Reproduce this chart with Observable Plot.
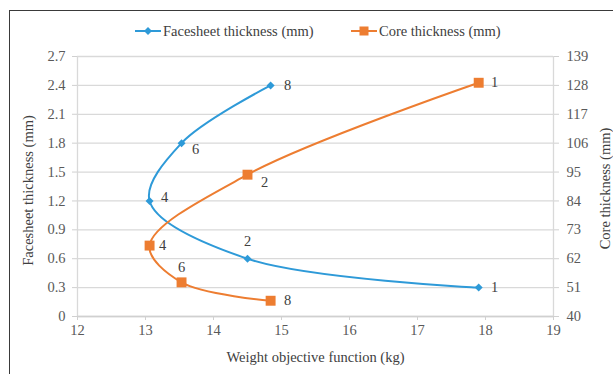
<!DOCTYPE html>
<html>
<head>
<meta charset="utf-8">
<script src="https://cdn.jsdelivr.net/npm/d3@7"></script>
<script src="https://cdn.jsdelivr.net/npm/@observablehq/plot@0.6"></script>
<style>
  html, body { margin: 0; padding: 0; background: #fff; overflow: hidden; }
  #wrap { position: relative; width: 613px; height: 374px; overflow: hidden; font-family: "Liberation Serif", serif; }
  #frame { position: absolute; left: 9px; top: 10px; width: 700px; height: 500px; border-left: 1px solid #3a3a3a; border-top: 1px solid #3a3a3a; }
  #chart { position: absolute; left: 0; top: 0; }
  #legend { position: absolute; top: 21px; left: 0; height: 20px; font-size: 14.5px; color: #404040; }
  .item { position: absolute; top: 0; white-space: nowrap; display: flex; align-items: center; height: 20px; }
  .item svg { margin-right: 2px; }
</style>
</head>
<body>
<div id="wrap">
  <div id="frame"></div>
  <div id="chart"></div>
  <div id="legend"></div>
</div>
<script>
// ---- data ----
const runs = ["8", "6", "4", "2", "1"];
const weight = [14.84, 13.53, 13.06, 14.5, 17.9];          // Weight objective function (kg)
const facesheet = [2.4, 1.8, 1.2, 0.6, 0.3];               // Facesheet thickness (mm)
const core = [46, 53, 67, 94, 129];                        // Core thickness (mm)
const leftTicks = [0, 0.3, 0.6, 0.9, 1.2, 1.5, 1.8, 2.1, 2.4, 2.7];
const rightTicks = [40, 51, 62, 73, 84, 95, 106, 117, 128, 139];
const xTicks = [12, 13, 14, 15, 16, 17, 18, 19];
const seriesNames = ["Facesheet thickness (mm)", "Core thickness (mm)"];
const axisTitles = { x: "Weight objective function (kg)", left: "Facesheet thickness (mm)", right: "Core thickness (mm)" };

const blue = "#2e9ad8";
const orange = "#ed7d31";
const leftMax = leftTicks[leftTicks.length - 1];
const rMin = rightTicks[0], rMax = rightTicks[rightTicks.length - 1];
const coreToY = c => (c - rMin) / (rMax - rMin) * leftMax;

const faceRows = runs.map((r, i) => ({ run: r, x: weight[i], y: facesheet[i] }));
const coreRows = runs.map((r, i) => ({ run: r, x: weight[i], y: coreToY(core[i]) }));

const faceOff = { "1": [16, 0], "2": [0, -17], "4": [15, -4], "6": [14, 6], "8": [17, 0] };
const coreOff = { "1": [16, 0], "2": [17, 8], "4": [13, 0], "6": [0, -15], "8": [17, 0] };

const labelMarks = (rows, off) => rows.map(d => Plot.text([d], {
  x: "x", y: "y", text: "run", dx: off[d.run][0], dy: off[d.run][1],
  fill: "#404040", fontSize: 14.5
}));

const plot = Plot.plot({
  width: 613, height: 374,
  marginLeft: 77, marginRight: 60, marginTop: 56, marginBottom: 58,
  x: { domain: [12, 19] },
  y: { domain: [0, leftMax] },
  style: { fontFamily: "Liberation Serif", fontSize: "14.5px", color: "#595959", background: "transparent" },
  marks: [
    Plot.gridY(leftTicks, { stroke: "#d9d9d9", strokeOpacity: 1, strokeWidth: 1.3 }),
    Plot.ruleX([12, 19], { stroke: "#d9d9d9", strokeWidth: 1.3 }),
    Plot.ruleY([0], { stroke: "#d0d0d0", strokeWidth: 1.3 }),
    Plot.axisY(leftTicks, { anchor: "left", tickSize: 5, tickPadding: 7, stroke: "#d0d0d0", label: null, tickFormat: d => String(d) }),
    Plot.axisY(rightTicks.map(coreToY), { anchor: "right", tickSize: 5, tickPadding: 8, stroke: "#d0d0d0", label: null,
      tickFormat: d => String(Math.round(rMin + d / leftMax * (rMax - rMin))) }),
    Plot.axisX(xTicks, { anchor: "bottom", tickSize: 4, tickPadding: 4, stroke: "#d0d0d0", label: null }),
    Plot.text([axisTitles.x], { frameAnchor: "bottom", dy: 45, fill: "#404040", fontSize: 14.5 }),
    Plot.text([axisTitles.left], { frameAnchor: "left", textAnchor: "middle", dx: -49, dy: 4, rotate: -90, fill: "#404040", fontSize: 14.5 }),
    Plot.text([axisTitles.right], { frameAnchor: "right", textAnchor: "middle", dx: 52, dy: 2, rotate: -90, fill: "#404040", fontSize: 14.5 }),
    Plot.line(faceRows, { x: "x", y: "y", stroke: blue, strokeWidth: 2, curve: "catmull-rom" }),
    Plot.line(coreRows, { x: "x", y: "y", stroke: orange, strokeWidth: 2, curve: "catmull-rom" }),
    Plot.dot(faceRows, { x: "x", y: "y", symbol: "diamond2", r: 3.6, fill: blue, stroke: null }),
    Plot.dot(coreRows, { x: "x", y: "y", symbol: "square", r: 5.6, fill: orange, stroke: null }),
    ...labelMarks(faceRows, faceOff),
    ...labelMarks(coreRows, coreOff)
  ]
});
document.getElementById("chart").appendChild(plot);

// ---- legend ----
const legend = document.getElementById("legend");
const legendLeft = [135, 351];
const legendColors = [blue, orange];
seriesNames.forEach((name, i) => {
  const item = document.createElement("div");
  item.className = "item";
  item.style.left = legendLeft[i] + "px";
  const marker = i === 0
    ? `<polygon points="13,6 17,10 13,14 9,10" fill="${blue}"/>`
    : `<rect x="8.5" y="5.5" width="9" height="9" fill="${orange}"/>`;
  item.innerHTML = `<svg width="26" height="20"><line x1="0" y1="10" x2="26" y2="10" stroke="${legendColors[i]}" stroke-width="2"/>${marker}</svg><span>${name}</span>`;
  legend.appendChild(item);
});
</script>
</body>
</html>
